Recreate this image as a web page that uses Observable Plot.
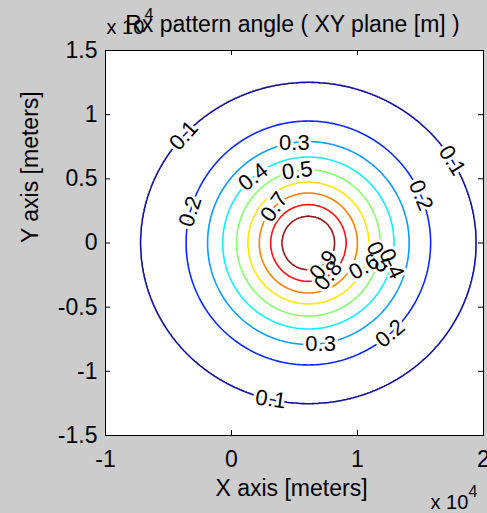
<!DOCTYPE html>
<html>
<head>
<meta charset="utf-8">
<script src="https://cdn.jsdelivr.net/npm/d3@7"></script>
<script src="https://cdn.jsdelivr.net/npm/@observablehq/plot@0.6"></script>
<style>
  html, body { margin: 0; padding: 0; background: #cccccc; }
</style>
</head>
<body>
<div id="chart"></div>
<script>
// Contour levels and their colours (jet colormap)
const levels = [0.1, 0.2, 0.3, 0.4, 0.5, 0.6, 0.7, 0.8, 0.9];
const levelColors = ["#10109a", "#0a28ff", "#0a9cff", "#10eeff", "#88ff70", "#ffe600", "#ff8000", "#ff1010", "#901818"];
// Radii of each contour (units of 1e4 m)
const radiusX = [1.33, 0.97, 0.80, 0.68, 0.57, 0.48, 0.39, 0.30, 0.21];
const radiusY = [1.25, 0.95, 0.79, 0.67, 0.57, 0.475, 0.39, 0.30, 0.21];
const centerX = 0.61;
const centerY = 0.0;

// Tick values
const xTicks = [-1, 0, 1, 2];
const yTicks = [-1.5, -1, -0.5, 0, 0.5, 1, 1.5];

// Inline contour labels: level, angle on the contour (deg), text rotation (deg)
const labelLevels    = [0.1, 0.1, 0.1, 0.2, 0.2, 0.2, 0.3, 0.3, 0.4, 0.4, 0.5, 0.5, 0.6, 0.7, 0.8, 0.9];
const labelAngles    = [138, 31, -103, 165, 23, -48, 98, -83, 130, -14, 99, -11, -23, 134, -58, -55];
const labelRotations = [-48, 58, 8, -72, 68, -40, 0, 0, -38, 65, -8, 65, -30, -55, -52, -52];

// Text
const titleText = "Rx pattern angle ( XY plane [m] )";
const xLabelText = "X axis [meters]";
const yLabelText = "Y axis [meters]";
const expBase = "x 10";
const expPower = "4";

// Field interpolated between the contour ellipses
function field(x, y) {
  const d = levels.map((_, i) => Math.hypot((x - centerX) / radiusX[i], (y - centerY) / radiusY[i]));
  let i = -1;
  for (let k = 0; k < levels.length; k++) if (d[k] <= 1) i = k;
  if (i < 0) return levels[0] / d[0];
  if (i === levels.length - 1) return levels[i] + 0.1 * (1 - d[i]);
  return levels[i] + (levels[i + 1] - levels[i]) * (1 - d[i]) / (d[i + 1] - d[i]);
}

const labelData = labelLevels.map((L, j) => {
  const i = levels.indexOf(L);
  const a = labelAngles[j] * Math.PI / 180;
  return {
    x: centerX + radiusX[i] * Math.cos(a),
    y: centerY + radiusY[i] * Math.sin(a),
    text: String(L),
    rotate: labelRotations[j]
  };
});

const W = 487, H = 513;
const mL = 105, mR = 4, mT = 50, mB = 78;
const plotW = W - mL - mR, plotH = H - mT - mB;
const tickLen = 5;
const font = "'Liberation Sans', Arial, Helvetica, sans-serif";

const chart = Plot.plot({
  width: W,
  height: H,
  marginLeft: mL,
  marginRight: mR,
  marginTop: mT,
  marginBottom: mB,
  style: { background: "#cccccc", fontFamily: font, fontSize: "23px", color: "black" },
  x: { domain: [-1, 2] },
  y: { domain: [-1.5, 1.5] },
  color: { type: "ordinal", domain: levels, range: levelColors },
  marks: [
    Plot.frame({ fill: "white" }),
    Plot.contour({
      x1: -1, y1: -1.5, x2: 2, y2: 1.5,
      value: field,
      thresholds: levels,
      stroke: "value",
      fill: "none",
      pixelSize: 1,
      strokeWidth: 1.6
    }),
    // label gaps (white halos) then label text
    Plot.text(labelData, {
      x: "x", y: "y", text: "text", rotate: "rotate",
      fontSize: 22, fill: "white", stroke: "white", strokeWidth: 6
    }),
    Plot.text(labelData, {
      x: "x", y: "y", text: "text", rotate: "rotate",
      fontSize: 22, fill: "black"
    }),
    // inward ticks on all four sides
    Plot.tickX(xTicks, { x: d => d, insetTop: plotH - tickLen, stroke: "black" }),
    Plot.tickX(xTicks, { x: d => d, insetBottom: plotH - tickLen, stroke: "black" }),
    Plot.tickY(yTicks, { y: d => d, insetRight: plotW - tickLen, stroke: "black" }),
    Plot.tickY(yTicks, { y: d => d, insetLeft: plotW - tickLen, stroke: "black" }),
    Plot.axisX(xTicks, { tickSize: 0, tickPadding: 15, tickFormat: d => String(d), label: null, fontSize: 23 }),
    Plot.axisY(yTicks, { tickSize: 0, tickPadding: 8, tickFormat: d => String(d), label: null, fontSize: 23 }),
    Plot.frame({ stroke: "black" }),
    // title and axis labels
    Plot.text([titleText], { frameAnchor: "top", lineAnchor: "middle", dx: -2, dy: -26, fontSize: 23, fill: "black" }),
    Plot.text([xLabelText], { frameAnchor: "bottom", lineAnchor: "middle", dx: -3, dy: 53, fontSize: 23, fill: "black" }),
    Plot.text([yLabelText], { frameAnchor: "left", lineAnchor: "middle", dx: -75, rotate: -90, fontSize: 23, fill: "black" }),
    // exponent labels
    Plot.text([expBase], { frameAnchor: "top-left", lineAnchor: "middle", dx: 1, dy: -23, textAnchor: "start", fontSize: 20, fill: "black" }),
    Plot.text([expPower], { frameAnchor: "top-left", lineAnchor: "middle", dx: 39, dy: -36, textAnchor: "start", fontSize: 16, fill: "black" }),
    Plot.text([expBase], { frameAnchor: "bottom-right", lineAnchor: "middle", dx: -53, dy: 67, textAnchor: "start", fontSize: 20, fill: "black" }),
    Plot.text([expPower], { frameAnchor: "bottom-right", lineAnchor: "middle", dx: -15, dy: 56, textAnchor: "start", fontSize: 16, fill: "black" })
  ]
});
document.getElementById("chart").appendChild(chart);
</script>
</body>
</html>
